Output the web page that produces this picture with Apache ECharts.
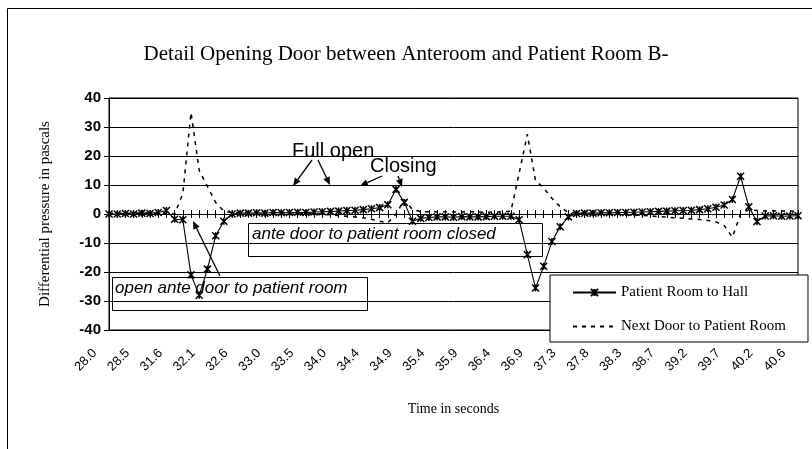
<!DOCTYPE html>
<html><head><meta charset="utf-8">
<script src="https://cdn.jsdelivr.net/npm/echarts@6/dist/echarts.min.js"></script>
<style>html,body{margin:0;padding:0;background:#fff}#c{width:812px;height:449px}</style>
</head><body><div id="c"></div>
<script>
// Time in seconds (category axis); every 4th is labelled
const times = [
 "28.0","28.1","28.2","28.4","28.5","28.6","28.7","28.9",
 "31.6","31.7","31.8","32.0","32.1","32.2","32.3","32.5",
 "32.6","32.7","32.8","32.9","33.0","33.1","33.3","33.4",
 "33.5","33.6","33.7","33.9","34.0","34.1","34.2","34.3",
 "34.4","34.5","34.7","34.8","34.9","35.0","35.1","35.3",
 "35.4","35.5","35.6","35.8","35.9","36.0","36.1","36.3",
 "36.4","36.5","36.6","36.8","36.9","37.0","37.1","37.2",
 "37.3","37.4","37.6","37.7","37.8","37.9","38.0","38.2",
 "38.3","38.4","38.5","38.6","38.7","38.8","39.0","39.1",
 "39.2","39.3","39.4","39.6","39.7","39.8","39.9","40.1",
 "40.2","40.3","40.4","40.5","40.6"
];
// Patient Room to Hall (Pa)
const hallValues = [
 0, 0, 0.2, 0, 0.3, 0.2, 0.5, 1.2,
 -1.8, -2, -21, -28, -19, -7.5, -2.5, 0,
 0.3, 0.3, 0.4, 0.3, 0.5, 0.4, 0.5, 0.6,
 0.5, 0.7, 0.8, 0.9, 1.0, 1.2, 1.3, 1.5,
 1.8, 2.2, 3.2, 8.5, 4, -2.5, -1.5, -1.2,
 -1, -1, -1.1, -0.9, -1, -1, -0.9, -0.8,
 -0.8, -0.8, -2, -14, -25.5, -18, -9.5, -4.4,
 -1, 0.2, 0.3, 0.3, 0.4, 0.4, 0.5, 0.5,
 0.6, 0.7, 0.8, 0.9, 1.0, 1.1, 1.2, 1.3,
 1.5, 1.8, 2.3, 3.1, 5, 13, 2.5, -2.6,
 -0.7, -0.6, -0.8, -0.7, -0.6
];
// Next Door to Patient Room (Pa)
const nextDoorValues = [
 0.3, 0.3, 0.3, 0.3, 0.4, 0.3, 0.3, 0.2,
 0, 7, 35, 15, 9.5, 4, 1, 0.5,
 0.5, 0.5, 0.6, 0.5, 0.5, 0.4, 0.4, 0.3,
 0.2, 0.2, 0, -0.3, -0.5, -0.8, -1, -1.3,
 -1.8, -2.5, -3, 0, 5, 1.5, 0.8, 0.8,
 0.7, 0.8, 0.7, 0.7, 0.8, 0.7, 0.6, 0.7,
 0.8, 1, 14, 27.5, 11.5, 9, 5.4, 2.5,
 0.5, 0.3, 0.3, 0.2, 0.2, 0.1, 0, -0.2,
 -0.3, -0.5, -0.7, -0.9, -1.1, -1.3, -1.5, -1.7,
 -1.9, -2.2, -2.7, -4, -8, 0, 1.5, 1.2,
 1, 1.1, 1, 1, 0.9
];
const seriesNames = ["Patient Room to Hall", "Next Door to Patient Room"];
const yMin = -40, yMax = 40, yStep = 10;

const SERIF = "'Liberation Serif','Times New Roman',serif";
const SANS = "'Liberation Sans',Arial,sans-serif";

function arrow(x1, y1, x2, y2) {
  const a = Math.atan2(y2 - y1, x2 - x1), L = 8, W = 3.5;
  const bx = x2 - L * Math.cos(a), by = y2 - L * Math.sin(a);
  const px = -Math.sin(a) * W, py = Math.cos(a) * W;
  return [
    {type: 'line', shape: {x1: x1, y1: y1, x2: bx, y2: by}, style: {stroke: '#000', lineWidth: 1.3}, z: 10},
    {type: 'polygon', shape: {points: [[x2, y2], [bx + px, by + py], [bx - px, by - py]]}, style: {fill: '#000'}, z: 10}
  ];
}

const chart = echarts.init(document.getElementById('c'), null, {renderer: 'canvas'});
const xBase = {type: 'category', data: times, boundaryGap: false, splitLine: {show: false}};
chart.setOption({
  animation: false,
  backgroundColor: '#fff',
  title: {
    text: 'Detail Opening Door between Anteroom and Patient Room B-',
    left: 'center', top: 39,
    textStyle: {fontFamily: SERIF, fontSize: 21, fontWeight: 'normal', color: '#000'}
  },
  grid: {left: 109, right: 14, top: 98, bottom: 119, show: true, borderColor: '#000', borderWidth: 1, backgroundColor: 'transparent'},
  legend: {
    data: seriesNames,
    orient: 'vertical', left: 550, top: 275,
    padding: [10, 22, 8, 22], itemGap: 19, itemWidth: 43, itemHeight: 9,
    backgroundColor: '#fff', borderColor: '#000', borderWidth: 1,
    textStyle: {fontFamily: SERIF, fontSize: 15, color: '#000'}
  },
  xAxis: [
    Object.assign({}, xBase, {position: 'bottom', axisLine: {onZero: true, onZeroAxisIndex: 0, lineStyle: {color: '#000', width: 1}},
      axisTick: {show: true, interval: 0, length: 4, lineStyle: {color: '#000'}}, axisLabel: {show: false}}),
    Object.assign({}, xBase, {position: 'top', axisLine: {onZero: true, onZeroAxisIndex: 0, show: false},
      axisTick: {show: true, interval: 0, length: 4, lineStyle: {color: '#000'}}, axisLabel: {show: false}}),
    Object.assign({}, xBase, {position: 'bottom', axisLine: {onZero: false, show: false}, axisTick: {show: false},
      axisLabel: {interval: 3, rotate: 45, margin: 7, padding: [0, 20, 0, 0], fontFamily: SANS, fontSize: 13, color: '#000'},
      name: 'Time in seconds', nameLocation: 'middle', nameGap: 72,
      nameTextStyle: {fontFamily: SERIF, fontSize: 14, color: '#000'}})
  ],
  yAxis: {
    type: 'value', min: yMin, max: yMax, interval: yStep,
    axisLine: {show: true, lineStyle: {color: '#000', width: 1}},
    axisTick: {show: true, length: 5, lineStyle: {color: '#000'}},
    splitLine: {show: true, lineStyle: {color: '#000', width: 1}},
    axisLabel: {fontFamily: SANS, fontSize: 15, fontWeight: 'bold', color: '#000', margin: 8},
    name: 'Differential pressure in pascals', nameLocation: 'middle', nameGap: 56, nameRotate: 90,
    nameTextStyle: {fontFamily: SERIF, fontSize: 15, color: '#000'}
  },
  series: [
    {name: seriesNames[0], type: 'line', xAxisIndex: 0, data: hallValues,
     showSymbol: true, showAllSymbol: true,
     symbol: 'path://M0,0L10,10M10,0L0,10M5,0L5,10', symbolSize: 7,
     itemStyle: {color: '#000', borderColor: '#000', borderWidth: 1.5},
     lineStyle: {color: '#000', width: 1.1}, z: 3},
    {name: seriesNames[1], type: 'line', xAxisIndex: 0, data: nextDoorValues, symbol: 'none',
     itemStyle: {color: 'rgba(0,0,0,0)'},
     lineStyle: {color: '#000', width: 1.5, type: [4, 5]}, z: 2}
  ],
  graphic: [
    {type: 'rect', shape: {x: 7.5, y: 8.5, width: 900, height: 600}, style: {fill: 'none', stroke: '#000', lineWidth: 1}, z: 1},
    {type: 'text', x: 292, y: 151, style: {text: 'Full open', font: '20px ' + SANS, fill: '#000', textVerticalAlign: 'middle'}, z: 10},
    {type: 'text', x: 370, y: 166, style: {text: 'Closing', font: '20px ' + SANS, fill: '#000', textVerticalAlign: 'middle'}, z: 10},
    ...arrow(312, 160, 293, 186),
    ...arrow(318, 160, 330, 185),
    ...arrow(382, 176, 360, 186),
    ...arrow(398, 176, 402, 187),
    {type: 'rect', shape: {x: 248.5, y: 223.5, width: 294, height: 33}, style: {fill: 'none', stroke: '#000', lineWidth: 1}, z: 10},
    {type: 'text', x: 252, y: 234, style: {text: 'ante door to patient room closed', font: 'italic 17px ' + SANS, fill: '#000', textVerticalAlign: 'middle'}, z: 10},
    {type: 'rect', shape: {x: 112.5, y: 277.5, width: 255, height: 33}, style: {fill: 'none', stroke: '#000', lineWidth: 1}, z: 10},
    {type: 'text', x: 115, y: 288, style: {text: 'open ante door to patient room', font: 'italic 17px ' + SANS, fill: '#000', textVerticalAlign: 'middle'}, z: 10},
    ...arrow(220, 276, 193, 221)
  ]
});
</script></body></html>
